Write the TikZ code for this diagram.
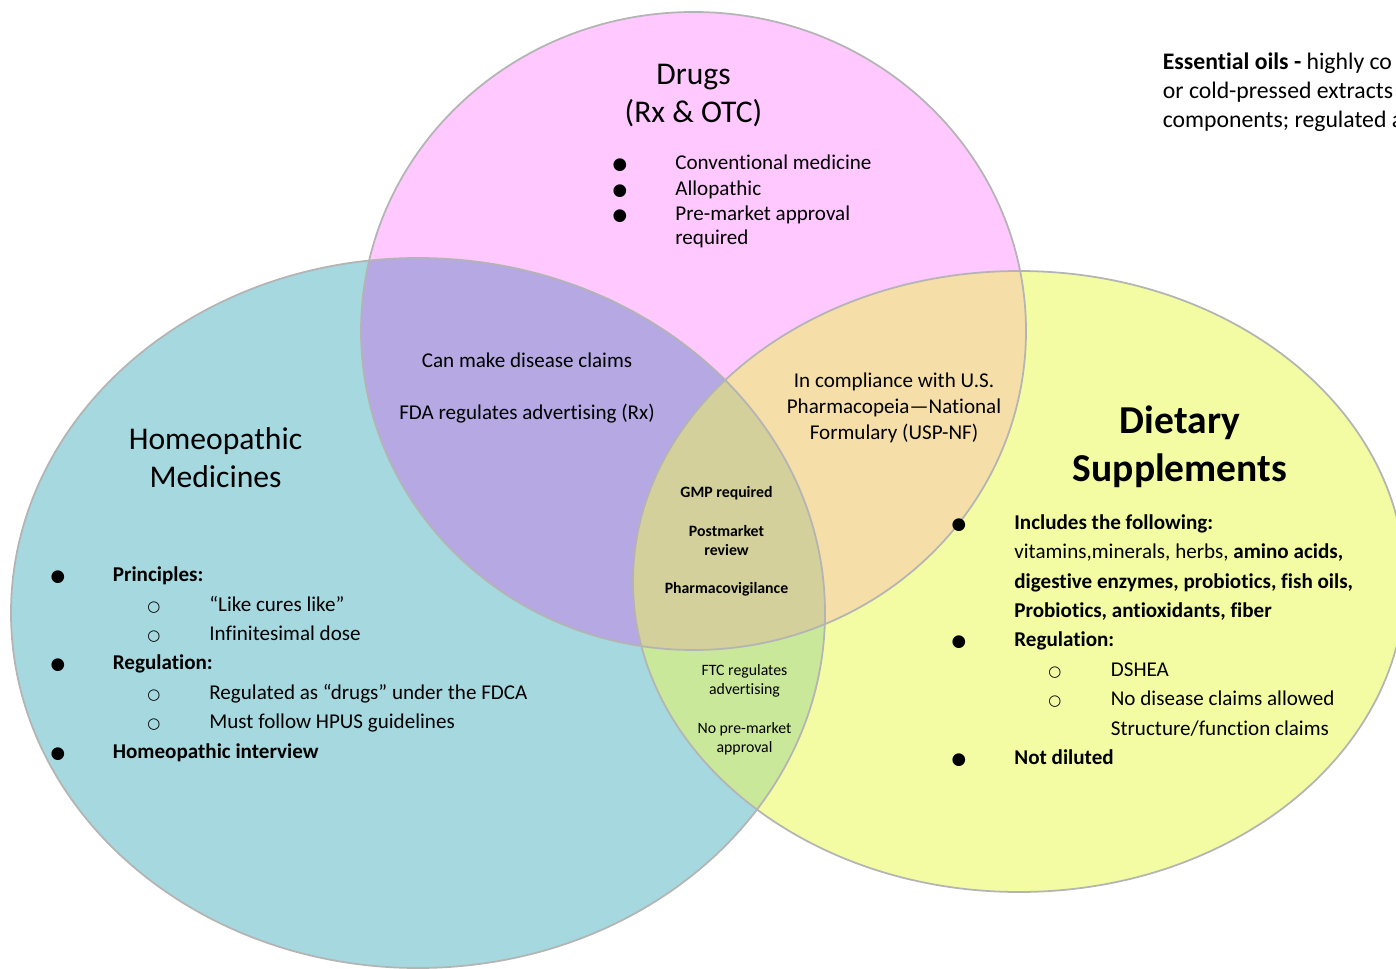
\documentclass[tikz,border=0pt]{standalone}
\usepackage{fontspec}
\setmainfont{Carlito}[Ligatures=NoCommon]
\newfontfamily\symfont{DejaVu Sans}
\definecolor{drugpink}{HTML}{FFC9FF}
\definecolor{homeoteal}{HTML}{A6D8DF}
\definecolor{suppyellow}{HTML}{F3FCA2}
\definecolor{rxpurple}{HTML}{B5A8E3}
\definecolor{uspbeige}{HTML}{F5DEA8}
\definecolor{ftcgreen}{HTML}{C9E89A}
\definecolor{gmpolive}{HTML}{D3D09B}
\definecolor{rimgray}{HTML}{B4B4B4}
\def\drugsset{(693.5,331) ellipse [x radius=332.5, y radius=319]}
\def\homeoset{(418,613) ellipse [x radius=407, y radius=355]}
\def\suppset{(1019,581.5) ellipse [x radius=386, y radius=310.5]}
\begin{document}
\begin{tikzpicture}[x=0.02cm,y=-0.02cm,
    title/.style={font=\fontsize{18}{22}\selectfont,anchor=base,inner sep=0pt},
    bigtitle/.style={font=\fontsize{22.5}{27}\selectfont\bfseries,anchor=base,inner sep=0pt},
    txt/.style={font=\fontsize{12}{14.6}\selectfont,anchor=base,inner sep=0pt},
    ltxt/.style={txt,anchor=base west},
    small/.style={font=\fontsize{9}{11}\selectfont,anchor=base,inner sep=0pt},
    dot/.style={font=\symfont\fontsize{9.5}{11}\selectfont,anchor=base,inner sep=0pt},
    ring/.style={font=\symfont\fontsize{8.5}{11}\selectfont,anchor=base,inner sep=0pt},
    rim/.style={draw=rimgray,line width=1pt}]
\useasboundingbox (0,0) rectangle (1396,969);

\fill[drugpink] \drugsset;
\fill[homeoteal] \homeoset;
\fill[suppyellow] \suppset;
\begin{scope}
  \clip \homeoset;
  \fill[ftcgreen] \suppset;
\end{scope}
\begin{scope}
  \clip \drugsset;
  \fill[rxpurple] \homeoset;
  \fill[uspbeige] \suppset;
  \clip \homeoset;
  \fill[gmpolive] \suppset;
\end{scope}
\draw[rim] \drugsset;
\draw[rim] \homeoset;
\draw[rim] \suppset;

\node[title](drugs1)at(693.5,85){Drugs};
\node[title](drugs2)at(693.5,123){(Rx \& OTC)};
\node[dot](db1)at(620,170){●};
\node[ltxt](dl1)at(675,170){Conventional medicine};
\node[dot](db2)at(620,196){●};
\node[ltxt](dl2)at(675,196){Allopathic};
\node[dot](db3)at(620,221){●};
\node[ltxt](dl3)at(675,221){Pre-market approval};
\node[ltxt](dl4)at(675,245){required};

\node[txt](rx1)at(527,368){Can make disease claims};
\node[txt](rx2)at(527,419){FDA regulates advertising (Rx)};

\node[txt](usp1)at(894,388){In compliance with U.S.};
\node[txt](usp2)at(894,414){Pharmacopeia—National};
\node[txt](usp3)at(894,439){Formulary (USP-NF)};

\node[small,font=\fontsize{9}{11}\selectfont\bfseries](gmp1)at(726.5,497){GMP required};
\node[small,font=\fontsize{9}{11}\selectfont\bfseries](gmp2)at(726.5,536){Postmarket};
\node[small,font=\fontsize{9}{11}\selectfont\bfseries](gmp3)at(726.5,555){review};
\node[small,font=\fontsize{9}{11}\selectfont\bfseries](gmp4)at(726.5,593){Pharmacovigilance};

\node[small](ftc1)at(744.5,675){FTC regulates};
\node[small](ftc2)at(744.5,694){advertising};
\node[small](ftc3)at(744.5,733){No pre-market};
\node[small](ftc4)at(744.5,752){approval};

\node[title](homeo1)at(215.5,449){Homeopathic};
\node[title](homeo2)at(215.5,487){Medicines};
\node[dot](hb1)at(58,581){●};
\node[ltxt](hl1)at(112.5,581){\bfseries Principles:};
\node[ring](hc1)at(154,611){○};
\node[ltxt](hl2)at(209,611){“Like cures like”};
\node[ring](hc2)at(154,640){○};
\node[ltxt](hl3)at(209,640){Infinitesimal dose};
\node[dot](hb2)at(58,669){●};
\node[ltxt](hl4)at(112.5,669){\bfseries Regulation:};
\node[ring](hc3)at(154,699){○};
\node[ltxt](hl5)at(209,699){Regulated as “drugs” under the FDCA};
\node[ring](hc4)at(154,728){○};
\node[ltxt](hl6)at(209,728){Must follow HPUS guidelines};
\node[dot](hb3)at(58,758){●};
\node[ltxt](hl7)at(112.5,758){\bfseries Homeopathic interview};

\node[bigtitle](supp1)at(1180,434){Dietary};
\node[bigtitle](supp2)at(1180,481){Supplements};
\node[dot](sb1)at(959,529){●};
\node[ltxt](sl1)at(1014,529){\bfseries Includes the following:};
\node[ltxt](sl2)at(1014,558){vitamins,minerals, herbs, \textbf{amino acids,}};
\node[ltxt](sl3)at(1014,588){\bfseries digestive enzymes, probiotics, fish oils,};
\node[ltxt](sl4)at(1014,617){\bfseries Probiotics, antioxidants, fiber};
\node[dot](sb2)at(959,646){●};
\node[ltxt](sl5)at(1014,646){\bfseries Regulation:};
\node[ring](sc1)at(1055,676){○};
\node[ltxt](sl6)at(1110.5,676){DSHEA};
\node[ring](sc2)at(1055,705){○};
\node[ltxt](sl7)at(1110.5,705){No disease claims allowed};
\node[ltxt](sl8)at(1110.5,735){Structure/function claims};
\node[dot](sb3)at(959,764){●};
\node[ltxt](sl9)at(1014,764){\bfseries Not diluted};

\node[ltxt,font=\fontsize{13.5}{16}\selectfont](oil1)at(1162.5,70){\textbf{Essential oils -} highly co};
\node[ltxt,font=\fontsize{13.5}{16}\selectfont](oil2)at(1162.5,99){or cold-pressed extracts};
\node[ltxt,font=\fontsize{13.5}{16}\selectfont](oil3)at(1162.5,128){components; regulated a};
\end{tikzpicture}
\end{document}
